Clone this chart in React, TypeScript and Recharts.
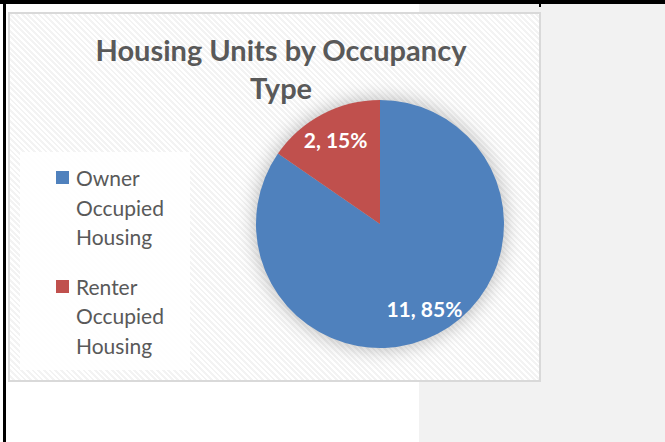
import React from 'react';
import { PieChart, Pie, Cell, Legend } from 'recharts';

const FONT = 'Lato, "Open Sans", sans-serif';

const categories = ['Owner Occupied Housing', 'Renter Occupied Housing'];
const units = [11, 2];
const colors = ['#4F81BD', '#C0504D'];
const SHADOW = '#000000';

const data = categories.map((name, i) => ({ name, value: units[i] }));
const total = units.reduce((a, b) => a + b, 0);

const RAD = Math.PI / 180;

const renderLabel = ({ cx, cy, midAngle, outerRadius, value }: any) => {
  const r = outerRadius * 0.77;
  const x = cx + r * Math.cos(-midAngle * RAD);
  const y = cy + r * Math.sin(-midAngle * RAD);
  return (
    <text
      x={x}
      y={y}
      fill="#fff"
      textAnchor="middle"
      dominantBaseline="central"
      fontSize={21}
      fontWeight={700}
      fontFamily={FONT}
    >
      {`${value}, ${Math.round((value / total) * 100)}%`}
    </text>
  );
};

const renderLegend = ({ payload }: any) => {
  const items = (payload || []).filter(
    (p: any) => p.type !== 'none' && String(p.color).toLowerCase() !== SHADOW
  );
  return (
    <div style={{ paddingTop: 11, paddingLeft: 36 }}>
      {items.map((p: any, i: number) => (
        <div key={i} style={{ display: 'flex', alignItems: 'flex-start', marginBottom: 20 }}>
          <span
            style={{
              width: 13,
              height: 13,
              background: p.color,
              marginTop: 8,
              marginRight: 7,
              flex: 'none',
            }}
          />
          <span style={{ width: 100, fontSize: 21, lineHeight: '29.5px', color: '#595959', fontFamily: FONT }}>
            {p.value}
          </span>
        </div>
      ))}
    </div>
  );
};

export default function App() {
  return (
    <div style={{ position: 'absolute', left: 0, top: 0, width: 665, height: 442, background: '#fff', overflow: 'hidden' }}>
      {/* page furniture */}
      <div style={{ position: 'absolute', left: 419, top: 4, right: 0, bottom: 0, background: '#f2f2f2' }} />
      <div style={{ position: 'absolute', left: 0, top: 0, width: 665, height: 4, background: '#000' }} />
      <div style={{ position: 'absolute', left: 3, top: 0, width: 3, height: 442, background: '#000' }} />
      <div style={{ position: 'absolute', left: 539, top: 4, width: 2, height: 3, background: '#000' }} />

      {/* chart area */}
      <div
        style={{
          position: 'absolute',
          left: 8,
          top: 12,
          width: 529,
          height: 366,
          border: '2px solid #d9d9d9',
          background: 'repeating-linear-gradient(45deg, #ffffff 0px, #ffffff 2px, #f3f3f3 2px, #f3f3f3 4px)',
        }}
      >
        <div
          style={{
            position: 'absolute',
            left: 76,
            top: 17,
            width: 390,
            textAlign: 'center',
            fontFamily: FONT,
            fontWeight: 700,
            fontSize: 29,
            lineHeight: '38px',
            color: '#595959',
          }}
        >
          Housing Units by Occupancy Type
        </div>

        <div style={{ position: 'absolute', left: 0, top: 0 }}>
          <PieChart width={529} height={366} margin={{ top: 0, right: 0, bottom: 0, left: 0 }}>
            <defs>
              <filter id="pieShadow" x="-30%" y="-30%" width="160%" height="160%">
                <feGaussianBlur stdDeviation="9" />
              </filter>
            </defs>
            <Pie
              data={data}
              dataKey="value"
              nameKey="name"
              cx={370}
              cy={210}
              outerRadius={126}
              startAngle={90}
              endAngle={-270}
              stroke="none"
              fill={SHADOW}
              legendType="none"
              isAnimationActive={false}
            >
              {data.map((d) => (
                <Cell key={d.name} fill={SHADOW} fillOpacity={0.24} filter="url(#pieShadow)" />
              ))}
            </Pie>
            <Pie
              data={data}
              dataKey="value"
              nameKey="name"
              cx={370}
              cy={210}
              outerRadius={124}
              startAngle={90}
              endAngle={-270}
              stroke="none"
              label={renderLabel}
              labelLine={false}
              isAnimationActive={false}
            >
              {data.map((d, i) => (
                <Cell key={d.name} fill={colors[i]} />
              ))}
            </Pie>
            <Legend
              layout="vertical"
              align="center"
              verticalAlign="middle"
              content={renderLegend}
              wrapperStyle={{
                position: 'absolute',
                left: 10,
                top: 138,
                width: 170,
                height: 218,
                background: 'rgba(255,255,255,0.85)',
              }}
            />
          </PieChart>
        </div>
      </div>
    </div>
  );
}
